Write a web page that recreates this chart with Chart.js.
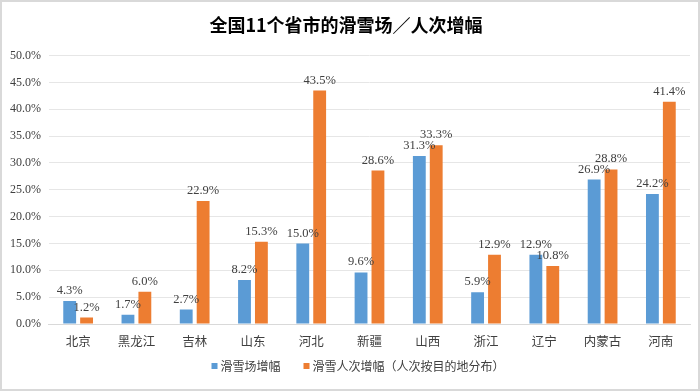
<!DOCTYPE html>
<html>
<head>
<meta charset="utf-8">
<script src="https://cdn.jsdelivr.net/npm/chart.js@4/dist/chart.umd.min.js"></script>
<style>
  html, body { margin: 0; padding: 0; background: #fff; }
  #wrap { width: 700px; height: 391px; box-sizing: border-box; border: 2px solid #d9d9d9; position: relative; }
</style>
</head>
<body>
<div id="wrap"><canvas id="skiChart"></canvas></div>
<script>
const provinces = ['北京', '黑龙江', '吉林', '山东', '河北', '新疆', '山西', '浙江', '辽宁', '内蒙古', '河南'];
const resortGrowth = [4.3, 1.7, 2.7, 8.2, 15.0, 9.6, 31.3, 5.9, 12.9, 26.9, 24.2];  //滑雪场增幅
const visitGrowth = [1.2, 6.0, 22.9, 15.3, 43.5, 28.6, 33.3, 12.9, 10.8, 28.8, 41.4];  //滑雪人次增幅
const seriesNames = ['滑雪场增幅', '滑雪人次增幅（人次按目的地分布）'];
const seriesColors = ['#5B9BD5', '#ED7D31'];

const serif = '"Liberation Serif", "Noto Sans CJK SC", serif';
const cjk = '"Noto Sans CJK SC", sans-serif';

//Draw the value above every bar
const valueLabels = {
  id: 'valueLabels',
  afterDatasetsDraw(chart) {
    const ctx = chart.ctx;
    ctx.save();
    ctx.font = '12.5px ' + serif;
    ctx.fillStyle = '#404040';
    ctx.textAlign = 'center';
    ctx.textBaseline = 'bottom';
    chart.data.datasets.forEach((ds, i) => {
      chart.getDatasetMeta(i).data.forEach((bar, j) => {
        ctx.fillText(ds.data[j].toFixed(1) + '%', bar.x, bar.y - 4);
      });
    });
    ctx.restore();
  }
};

//Legend at the bottom, small square markers and a wide gap between the items
const bottomLegend = {
  id: 'bottomLegend',
  afterDraw(chart) {
    const ctx = chart.ctx;
    const box = 6, boxGap = 3, itemGap = 23;
    ctx.save();
    ctx.font = '12px ' + cjk;
    ctx.textBaseline = 'middle';
    const items = chart.data.datasets.map(ds => ({
      text: ds.label, color: ds.backgroundColor, w: box + boxGap + ctx.measureText(ds.label).width
    }));
    const total = items.reduce((s, it) => s + it.w, 0) + itemGap * (items.length - 1);
    let x = chart.width / 2 + 8 - total / 2;
    const y = 364;
    items.forEach(it => {
      ctx.fillStyle = it.color;
      ctx.fillRect(x, y - box / 2, box, box);
      ctx.fillStyle = '#404040';
      ctx.fillText(it.text, x + box + boxGap, y);
      x += it.w + itemGap;
    });
    ctx.restore();
  }
};

const ctx = document.getElementById('skiChart');
new Chart(ctx, {
  type: 'bar',
  data: {
    labels: provinces,
    datasets: [
      { label: seriesNames[0], data: resortGrowth, backgroundColor: seriesColors[0] },
      { label: seriesNames[1], data: visitGrowth, backgroundColor: seriesColors[1] }
    ]
  },
  options: {
    responsive: true,
    maintainAspectRatio: false,
    animation: false,
    categoryPercentage: 0.58,
    barPercentage: 0.76,
    layout: { padding: { left: 0, right: 8, top: 0, bottom: 30 } },
    plugins: {
      title: {
        display: true,
        text: '全国11个省市的滑雪场／人次增幅',
        color: '#000',
        font: { size: 18, weight: 'bold', family: cjk },
        padding: { top: 12, bottom: 20 }
      },
      legend: { display: false },
      tooltip: { enabled: false }
    },
    scales: {
      x: {
        grid: { display: false, drawTicks: false },
        border: { color: '#d9d9d9' },
        ticks: { color: '#404040', padding: 10, font: { size: 12.5, family: cjk } }
      },
      y: {
        min: 0,
        max: 50,
        ticks: {
          stepSize: 5,
          color: '#404040',
          font: { size: 12, family: serif },
          padding: 8,
          callback: v => v.toFixed(1) + '%'
        },
        grid: { color: '#e6e6e6', drawTicks: false },
        border: { display: false }
      }
    }
  },
  plugins: [valueLabels, bottomLegend]
});
</script>
</body>
</html>
